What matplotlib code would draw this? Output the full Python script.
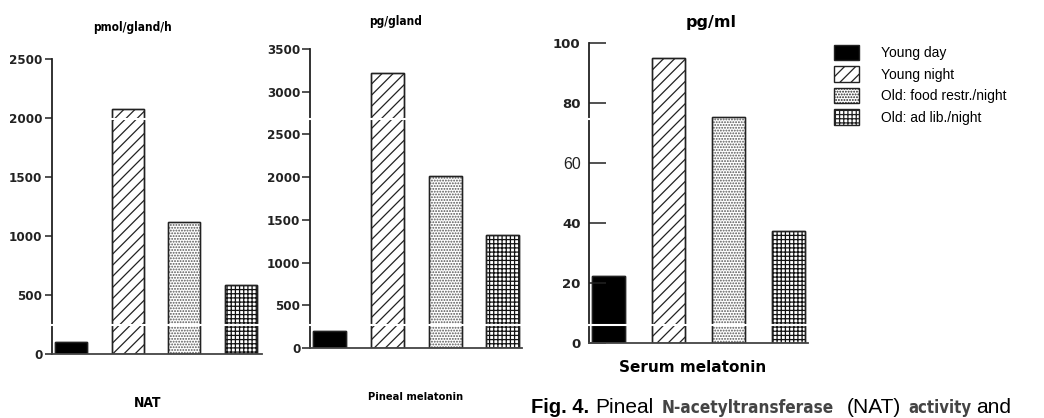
import matplotlib
matplotlib.use("Agg")
import matplotlib.pyplot as plt
from matplotlib.patches import Patch
from matplotlib.lines import Line2D
from matplotlib import font_manager as fm

# ---- data ----
categories = ["Young day", "Young night", "Old: food restr./night", "Old: ad lib./night"]
nat_values = [100, 2080, 1120, 585]          # pmol/gland/h
pineal_values = [200, 3215, 2010, 1320]      # pg/gland
serum_values = [22.5, 95, 75.5, 37.5]        # pg/ml
nat_ticks = [0, 500, 1000, 1500, 2000, 2500]
pineal_ticks = [0, 500, 1000, 1500, 2000, 2500, 3000, 3500]
serum_ticks = [0, 20, 40, 60, 80, 100]

W, H = 1044, 418
plt.rcParams['hatch.linewidth'] = 0.9
fig = plt.figure(figsize=(W / 100, H / 100), dpi=100)

names = {f.name for f in fm.fontManager.ttflist}
cond = [f for f in fm.fontManager.ttflist if 'ondensed' in f.fname or 'arrow' in f.fname]
ARIAL = ['Liberation Sans', 'DejaVu Sans']
if 'Liberation Sans Narrow' in names:
    NARROW = dict(family=['Liberation Sans Narrow'], stretch='normal')
elif cond:
    NARROW = dict(family=[cond[0].name], stretch=cond[0].stretch)
else:
    NARROW = dict(family=ARIAL, stretch='normal')

styles = [
    dict(color='black', edgecolor='black', hatch=None),
    dict(color='white', edgecolor='#222222', hatch='///'),
    dict(color='white', edgecolor='#555555', hatch='......'),
    dict(color='white', edgecolor='#111111', hatch='++++'),
]


def add_panel(l, r, b, t, xlim, ymax, values, ticks, tickdir, ticklen, width):
    ax = fig.add_axes([l / W, 1 - b / H, (r - l) / W, (b - t) / H])
    for i, v in enumerate(values):
        st = styles[i]
        ax.bar(i, v, width=width, color=st['color'], edgecolor=st['edgecolor'],
               hatch=st['hatch'], linewidth=1.0)
        ax.bar(i, v, width=width, fill=False, edgecolor='#222222', linewidth=1.0)
    ax.set_xlim(*xlim)
    ax.set_ylim(0, ymax)
    ax.set_xticks([])
    ax.set_yticks(ticks)
    for s in ['top', 'right']:
        ax.spines[s].set_visible(False)
    ax.spines['left'].set_linewidth(1.3)
    ax.spines['bottom'].set_linewidth(1.3)
    ax.spines['left'].set_color('#222222')
    ax.spines['bottom'].set_color('#444444')
    ax.tick_params(axis='y', direction=tickdir, length=ticklen, width=1.1, pad=2, colors='#222222')
    ax.set_facecolor('none')
    return ax


def narrow_labels(ax, size):
    for lab in ax.get_yticklabels():
        lab.set_fontfamily(NARROW['family']); lab.set_fontstretch(NARROW['stretch'])
        lab.set_fontweight('bold'); lab.set_fontsize(size)


# Panel 1: NAT
ax1 = add_panel(52, 262, 354, 59, (-0.335, 3.37), 2500, nat_values, nat_ticks, 'out', 5, 0.565)
narrow_labels(ax1, 9.5)

# Panel 2: Pineal melatonin
ax2 = add_panel(310, 522, 348, 49, (-0.337, 3.33), 3500, pineal_values, pineal_ticks, 'out', 6, 0.57)
narrow_labels(ax2, 9.5)
ax2.tick_params(axis='y', pad=1)

# Panel 3: Serum melatonin
ax3 = add_panel(589, 808, 343, 43, (-0.325, 3.325), 100, serum_values, serum_ticks, 'in', 12, 0.56)
ax3.tick_params(axis='y', pad=6)
for lab in ax3.get_yticklabels():
    if lab.get_text() == '60':
        lab.set_fontfamily(ARIAL); lab.set_fontweight('normal'); lab.set_fontsize(11.5)
    else:
        lab.set_fontfamily(['DejaVu Sans']); lab.set_fontweight('bold'); lab.set_fontsize(9.5)


def ftext(x, y, s, **kw):
    fig.text(x / W, 1 - y / H, s, **kw)


def ntext(x, y, s, size, **kw):
    ftext(x, y, s, family=NARROW['family'], stretch=NARROW['stretch'], weight='bold',
          fontsize=size, **kw)


# units
ntext(133, 28, "pmol/gland/h", 8.5, ha='center', va='center')
ntext(396, 21, "pg/gland", 8.5, ha='center', va='center')
ftext(711, 22, "pg/ml", ha='center', va='center', family=['DejaVu Sans'], weight='bold', fontsize=11.5)

# panel names
ntext(148, 403, "NAT", 10, ha='center', va='center')
ntext(416, 397, "Pineal melatonin", 8, ha='center', va='center')
ftext(693, 367, "Serum melatonin", ha='center', va='center', family=['DejaVu Sans'], weight='bold',
      fontsize=11)

# caption
ftext(531, 413, "Fig. 4.", ha='left', va='baseline', family=ARIAL, weight='bold', fontsize=14.5)
ftext(595, 413, "Pineal", ha='left', va='baseline', family=ARIAL, fontsize=15)
ntext(662, 413, "N-acetyltransferase", 12.3, ha='left', va='baseline', color='#444444')
ftext(847, 413, "(NAT)", ha='left', va='baseline', family=ARIAL, fontsize=15)
ntext(908, 413, "activity", 12, ha='left', va='baseline', color='#444444')
ftext(976, 413, "and", ha='left', va='baseline', family=ARIAL, fontsize=15)

# legend
handles = [Patch(facecolor=st['color'], edgecolor='#222222', hatch=st['hatch'], linewidth=1.0)
           for st in styles]
fig.legend(handles, categories, loc='upper left', bbox_to_anchor=(834 / W, 1 - 45 / H),
           frameon=False, prop={'family': ARIAL, 'size': 10},
           handlelength=1.8, handleheight=1.3, labelspacing=0.45, handletextpad=1.6,
           borderpad=0, borderaxespad=0)

# scan artefacts: thin white gaps across the scanned figure
for (x0, x1, y) in [(105, 650, 119), (50, 830, 325)]:
    fig.add_artist(Line2D([x0 / W, x1 / W], [1 - y / H, 1 - y / H], color='white', lw=1.5,
                          transform=fig.transFigure, zorder=10))

fig.savefig("out.png", dpi=100)
